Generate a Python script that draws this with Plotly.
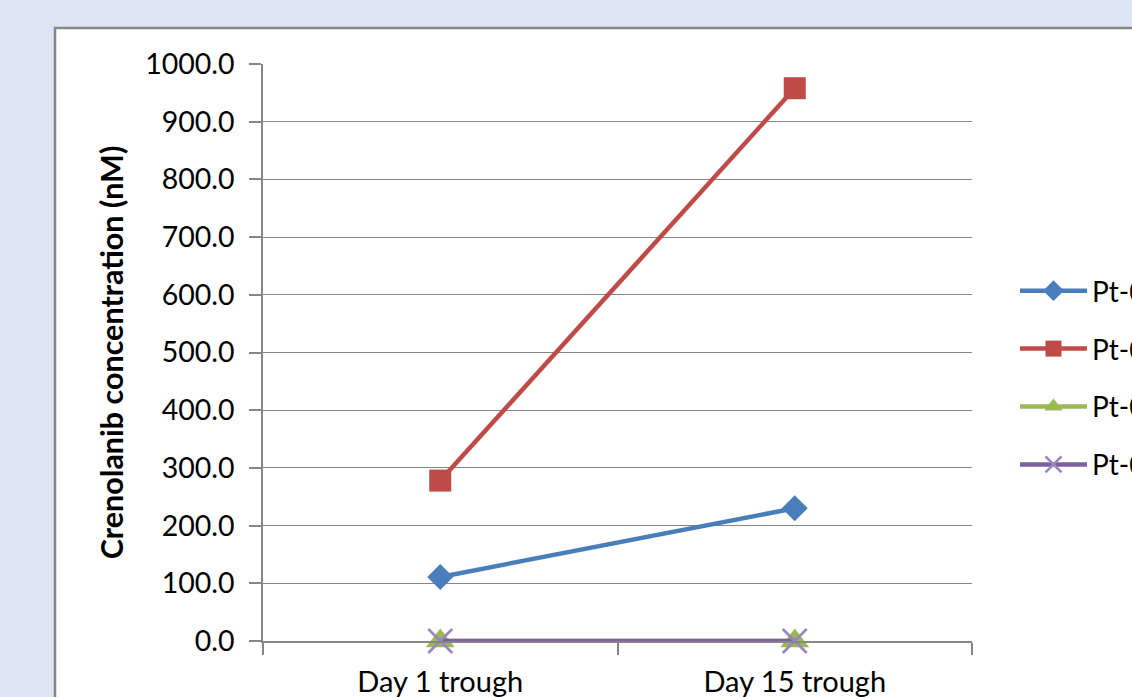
import plotly.graph_objects as go

categories = ["Day 1 trough", "Day 15 trough"]
series_names = ["Pt-01", "Pt-02", "Pt-03", "Pt-04"]
pt01 = [111.0, 230.0]
pt02 = [278.0, 958.0]
pt03 = [0.0, 0.0]
pt04 = [0.0, 0.0]
y_ticks = [0, 100, 200, 300, 400, 500, 600, 700, 800, 900, 1000]

colors = ["#4a7ebb", "#be4b48", "#98b954", "#7d60a0"]
symbols = ["diamond", "square", "triangle-up", "x-thin"]
sizes = [20, 22, 25, 24]
values = [pt01, pt02, pt03, pt04]

W, H = 1132, 697
L, R, T, B = 263, 972, 64, 641

fig = go.Figure()
for name, vals, c, s, sz in zip(series_names, values, colors, symbols, sizes):
    marker = dict(symbol=s, size=sz, color=c)
    if s == "x-thin":
        marker = dict(symbol=s, size=sz, color="#9b85c0", line=dict(width=2.5, color="#9b85c0"))
    fig.add_trace(go.Scatter(
        x=categories, y=vals, name=name, mode="lines+markers", legendgroup=name,
        line=dict(color=c, width=4.5), marker=marker, cliponaxis=False,
    ))

def px(x):
    return (x - L) / (R - L)

def py(y):
    return (B - y) / (B - T)

fig.add_shape(type="rect", xref="paper", yref="paper",
              x0=px(55), x1=px(1145), y0=py(715), y1=py(28),
              line=dict(color="#878787", width=2.5), fillcolor="white", layer="below")

font_family = "Lato, Carlito, Calibri, sans-serif"

fig.update_layout(
    width=W, height=H,
    margin=dict(l=L, r=W - R, t=T, b=H - B, autoexpand=False),
    paper_bgcolor="#dce6f2",
    plot_bgcolor="white",
    font=dict(family=font_family, size=27, color="#000000"),
    showlegend=True,
    legend=dict(x=px(1015), y=py(266), xanchor="left", yanchor="top",
                bgcolor="rgba(0,0,0,0)", font=dict(size=28, family=font_family),
                tracegroupgap=18.5, itemwidth=67),
    xaxis=dict(type="category", range=[-0.5, 1.5], showgrid=False,
               showline=True, linecolor="#868686", linewidth=1.5,
               ticks="outside", ticklen=12, tickcolor="#868686", tickwidth=1.5,
               tickson="boundaries", tickfont=dict(size=29), ticklabelstandoff=14),
    yaxis=dict(range=[0, 1000], tickvals=y_ticks, tickformat=".1f",
               showgrid=True, gridcolor="#868686", gridwidth=1.2,
               showline=True, linecolor="#868686", linewidth=1.5,
               zeroline=False,
               ticks="outside", ticklen=12, tickcolor="#868686", tickwidth=1.5,
               tickfont=dict(size=28.5), ticklabelstandoff=9,
               title=dict(text="<b>Crenolanib concentration (nM)</b>",
                          font=dict(size=30.5), standoff=12)),
)

fig.write_html("out.html", config={"displayModeBar": False},
               post_script="document.body.style.margin='0';")
